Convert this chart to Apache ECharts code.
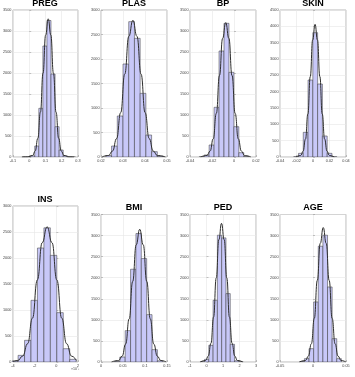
<!DOCTYPE html>
<html>
<head>
<meta charset="utf-8">
<script src="https://cdn.jsdelivr.net/npm/echarts@6/dist/echarts.min.js"></script>
<style>
  html, body { margin: 0; padding: 0; background: #fff; }
  #main { position: relative; width: 355px; height: 377px; }
  .panel { position: absolute; left: 0; top: 0; width: 355px; height: 377px; }
</style>
</head>
<body>
<div id="main"></div>
<script>
var names = ['PREG', 'PLAS', 'BP', 'SKIN', 'INS', 'BMI', 'PED', 'AGE'];

// bin edges + counts, and the fitted curve
var pregEdges = [-0.041, -0.016, 0.009, 0.034, 0.059, 0.084, 0.109, 0.134, 0.159, 0.184, 0.209, 0.234, 0.259, 0.284];
var pregCounts = [1, 5, 30, 262, 1159, 2643, 3250, 1976, 722, 167, 30, 5, 1];
var pregCurveX = [-0.045, -0.011, 0.021, 0.037, 0.053, 0.069, 0.085, 0.101, 0.117, 0.133, 0.149, 0.165, 0.181, 0.197, 0.213, 0.245, 0.275];
var pregCurveY = [0, 1, 37, 144, 445, 1068, 1995, 2903, 3290, 2903, 1995, 1068, 445, 144, 37, 1, 0];

var plasEdges = [0.0222, 0.0248, 0.0274, 0.03, 0.0326, 0.0352, 0.0378, 0.0404, 0.043, 0.0456, 0.0482];
var plasCounts = [30, 224, 837, 1898, 2762, 2422, 1299, 449, 109, 15];
var plasCurveX = [0.0205, 0.0234, 0.02525, 0.0271, 0.02895, 0.0308, 0.03265, 0.0345, 0.03635, 0.0382, 0.04005, 0.0419, 0.04375, 0.0456, 0.0493];
var plasCurveY = [2, 31, 122, 377, 906, 1692, 2462, 2790, 2462, 1692, 906, 377, 122, 31, 1];

var bpEdges = [-0.0316, -0.0271, -0.0226, -0.0181, -0.0136, -0.0091, -0.0046, -0.0001, 0.0044, 0.0089, 0.0134];
var bpCounts = [5, 48, 286, 1183, 2524, 3183, 2016, 722, 103, 10];
var bpCurveX = [-0.0303, -0.0246, -0.02175, -0.0189, -0.01605, -0.0132, -0.01035, -0.0075, -0.00465, -0.0018, 0.00105, 0.0039, 0.00675, 0.0096, 0.0153];
var bpCurveY = [1, 36, 140, 433, 1039, 1941, 2824, 3200, 2824, 1941, 1039, 433, 140, 36, 1];

var skinEdges = [-0.0234, -0.0176, -0.0118, -0.006, -0.0002, 0.0056, 0.0114, 0.0172, 0.023, 0.0288];
var skinCounts = [8, 112, 755, 2357, 3806, 2235, 643, 112, 8];
var skinCurveX = [-0.0207, -0.0149, -0.012, -0.0091, -0.0062, -0.0033, -0.0004, 0.0025, 0.0054, 0.0083, 0.0112, 0.0141, 0.017, 0.0199, 0.0257];
var skinCurveY = [1, 45, 178, 549, 1318, 2462, 3583, 4060, 3583, 2462, 1318, 549, 178, 45, 1];

// INS values are in units of 1e-3 (axis shows x10^-3)
var insEdges = [-4.12, -3.525, -2.93, -2.335, -1.74, -1.145, -0.55, 0.045, 0.64, 1.235, 1.83];
var insCounts = [20, 128, 417, 1186, 2192, 2580, 2051, 949, 256, 51];
var insCurveX = [-4.0, -3.55, -3.1, -2.65, -2.2, -1.75, -1.3, -0.85, -0.4, 0.05, 0.5, 0.95, 1.4, 1.85];
var insCurveY = [6, 29, 114, 352, 844, 1577, 2295, 2600, 2295, 1577, 844, 352, 114, 29];

var bmiEdges = [0.0306, 0.0428, 0.055, 0.0672, 0.0794, 0.0916, 0.1038, 0.116, 0.1282, 0.1404];
var bmiCounts = [10, 119, 744, 2201, 3048, 2454, 1124, 293, 30];
var bmiCurveX = [0.024, 0.04, 0.048, 0.056, 0.064, 0.072, 0.08, 0.088, 0.096, 0.104, 0.112, 0.12, 0.128, 0.136, 0.148];
var bmiCurveY = [1, 35, 138, 426, 1023, 1911, 2780, 3150, 2780, 1911, 1023, 426, 138, 35, 2];

var pedEdges = [-0.38, -0.12, 0.14, 0.40, 0.66, 0.92, 1.18, 1.44, 1.70, 1.96, 2.22];
var pedCounts = [5, 63, 396, 1465, 3009, 2945, 1623, 420, 30, 3];
var pedCurveX = [-0.37, -0.05, 0.11, 0.27, 0.43, 0.59, 0.75, 0.91, 1.07, 1.23, 1.39, 1.55, 1.71, 1.87, 2.19];
var pedCurveY = [1, 37, 144, 445, 1068, 1995, 2903, 3290, 2903, 1995, 1068, 445, 144, 37, 1];

var ageEdges = [-0.020, -0.013, -0.006, 0.001, 0.008, 0.015, 0.022, 0.029, 0.036, 0.043];
var ageCounts = [10, 80, 317, 1425, 2747, 3009, 1781, 554, 80];
var ageCurveX = [-0.0205, -0.0115, -0.007, -0.0025, 0.002, 0.0065, 0.011, 0.0155, 0.02, 0.0245, 0.029, 0.0335, 0.038, 0.0425, 0.0497];
var ageCurveY = [1, 35, 140, 432, 1036, 1935, 2815, 3190, 2815, 1935, 1036, 432, 140, 35, 2];

// axis ticks
var xMin = [-0.1, 0.02, -0.04, -0.04, -4, 0, -1, -0.05];
var xMax = [0.3, 0.05, 0.02, 0.04, 2, 0.15, 3, 0.05];
var xStep = [0.1, 0.01, 0.02, 0.02, 2, 0.05, 1, 0.05];
var yMax = [3500, 3000, 3500, 4500, 3000, 3500, 3500, 3500];

var edges = [pregEdges, plasEdges, bpEdges, skinEdges, insEdges, bmiEdges, pedEdges, ageEdges];
var counts = [pregCounts, plasCounts, bpCounts, skinCounts, insCounts, bmiCounts, pedCounts, ageCounts];
var curveX = [pregCurveX, plasCurveX, bpCurveX, skinCurveX, insCurveX, bmiCurveX, pedCurveX, ageCurveX];
var curveY = [pregCurveY, plasCurveY, bpCurveY, skinCurveY, insCurveY, bmiCurveY, pedCurveY, ageCurveY];

// subplot layout (px)
var colLeft = [12, 101, 190, 280];
var plotW = 66;

function renderBin(params, api) {
    var p0 = api.coord([api.value(0), api.value(2)]);
    var p1 = api.coord([api.value(1), 0]);
    return {
        type: 'rect',
        shape: {x: p0[0], y: p0[1], width: p1[0] - p0[0], height: p1[1] - p0[1]},
        style: {fill: '#c8c8f8', stroke: '#353535', lineWidth: 0.5}
    };
}

// one chart instance per subplot (several grids in one instance blew the stack)
function drawPanel(k) {
    var top, h;
    if (k < 4) { top = 10; h = 147; }
    else if (k === 4) { top = 206; h = 156; }   // INS axes sits a bit higher
    else { top = 214.5; h = 147.5; }
    var left = colLeft[k % 4];

    var dom = document.createElement('div');
    dom.className = 'panel';
    document.getElementById('main').appendChild(dom);
    var chart = echarts.init(dom);

    var graphics = [{
        type: 'text',
        x: left + plotW / 2,
        y: top - 6.5,
        style: {
            text: names[k],
            fill: '#000',
            font: 'bold 9px "Liberation Sans", Arial, sans-serif',
            align: 'center', verticalAlign: 'middle'
        }
    }];
    if (k === 4) {
        graphics.push({
            type: 'text', x: 71, y: 369,
            style: {text: '×10⁻³', fill: '#444', font: '3.6px "Liberation Sans", Arial, sans-serif',
                align: 'left', verticalAlign: 'middle'}
        });
    }

    var option = {
        animation: false,
        grid: {left: left, top: top, width: plotW, height: h,
            show: true, borderColor: '#8c8c8c', borderWidth: 0.6},
        xAxis: {
            type: 'value', min: xMin[k], max: xMax[k], interval: xStep[k],
            axisLine: {show: false},
            axisTick: {show: true, inside: true, length: 2, lineStyle: {color: '#8c8c8c', width: 0.5}},
            splitLine: {show: true, lineStyle: {color: '#e6e6e6', width: 0.6}},
            axisLabel: {fontSize: 3.8, color: '#444', margin: 2,
                formatter: function (v) { return String(+v.toFixed(4)); }}
        },
        yAxis: {
            type: 'value', min: 0, max: yMax[k], interval: 500,
            axisLine: {show: false},
            axisTick: {show: true, inside: true, length: 2, lineStyle: {color: '#8c8c8c', width: 0.5}},
            splitLine: {show: true, lineStyle: {color: '#e6e6e6', width: 0.6}},
            axisLabel: {fontSize: 3.8, color: '#444', margin: 1.5,
                formatter: function (v) { return String(v); }}
        },
        series: [
            {
                type: 'custom',
                renderItem: renderBin,
                encode: {x: [0, 1], y: 2},
                clip: true,
                silent: true,
                z: 2,
                data: counts[k].map(function (c, j) { return [edges[k][j], edges[k][j + 1], c]; })
            },
            {
                type: 'line',
                smooth: true,
                smoothMonotone: 'x',
                symbol: 'none',
                silent: true,
                z: 3,
                lineStyle: {color: '#2e2e2e', width: 1},
                data: curveX[k].map(function (x, j) { return [x, curveY[k][j]]; })
            }
        ],
        graphic: graphics
    };
    chart.setOption(option);
}

for (var k = 0; k < 8; k++) {
    drawPanel(k);
}
</script>
</body>
</html>
